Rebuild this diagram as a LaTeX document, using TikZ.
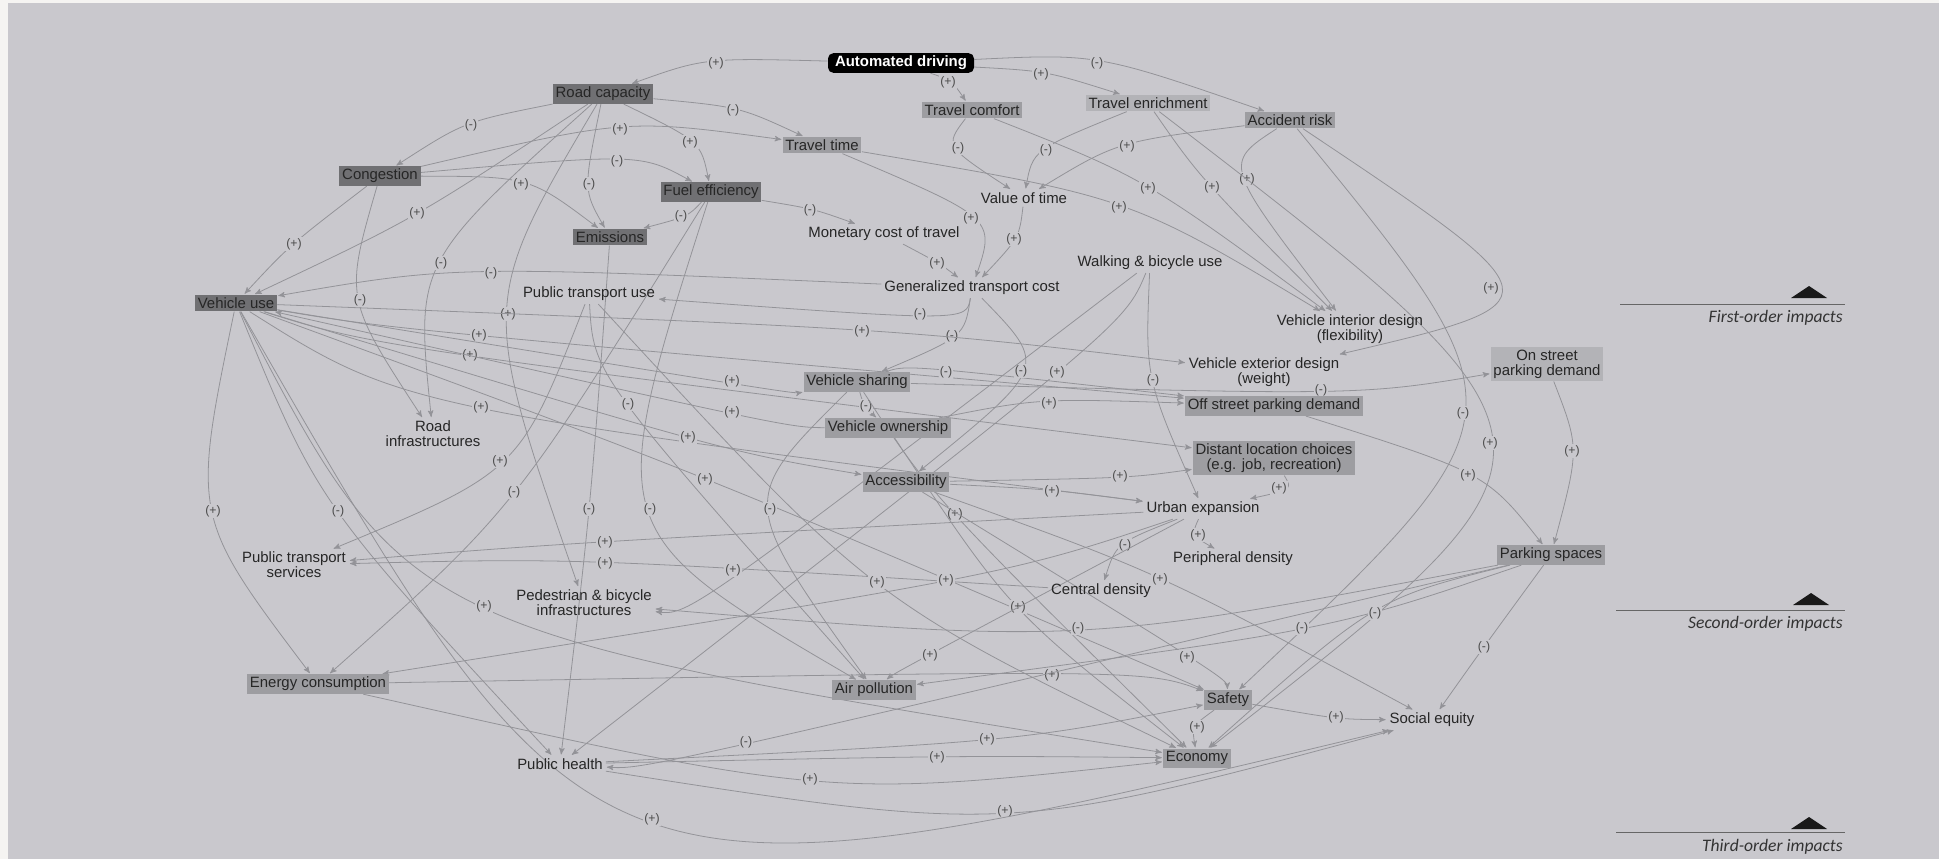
\documentclass[tikz,border=0pt]{standalone}
\usepackage{fontspec}
\setmainfont{Liberation Sans}
\newfontfamily\legfont{Carlito}
\usepackage{tikz}
\usetikzlibrary{arrows,calc}
\definecolor{canvas}{HTML}{C9C8CD}
\definecolor{rim}{HTML}{F5F4F2}
\definecolor{wire}{HTML}{939398}
\definecolor{darkfill}{HTML}{707073}
\definecolor{midfill}{HTML}{9D9DA1}
\definecolor{lightfill}{HTML}{B3B3B7}
\pgfdeclarelayer{back}
\pgfdeclarelayer{links}
\pgfsetlayers{back,links,main}
\tikzset{
  base/.style={font=\fontsize{8.5}{8.5}\selectfont, align=center, inner sep=1.6pt, text=black!85},
  plain/.style={base},
  darkbox/.style={base, fill=darkfill},
  midbox/.style={base, fill=midfill},
  lightbox/.style={base, fill=lightfill},
  driver/.style={base, fill=black, text=white, font=\fontsize{8.5}{8.5}\selectfont\bfseries, rounded corners=3pt, inner xsep=4pt},
  link/.style={draw=wire, line width=0.45pt, ->, >=stealth', shorten >=0.5pt},
  sign/.style={font=\fontsize{7}{7}\selectfont, text=black!70, fill=canvas, inner sep=0.5pt},
  legline/.style={draw=black!60, line width=0.5pt},
  legtext/.style={font=\legfont\itshape\fontsize{10}{10}\selectfont, text=black!80, anchor=east, inner sep=0pt}
}
% from, to, label point, sign
\newcommand{\ripple}[4]{%
  \begin{pgfonlayer}{links}
  \draw[link] (#1) .. controls ($1.3333*(#3)-0.16667*(#1)-0.16667*(#2)$) .. (#2);
  \node[sign] at (#3) {#4};
  \end{pgfonlayer}}

\begin{document}
\begin{tikzpicture}[x=0.02cm, y=-0.02cm]
	\useasboundingbox (0,0) rectangle (1939,859);
	\begin{pgfonlayer}{back}
	\fill[rim] (0,0) rectangle (1939,859);
	\fill[canvas] (8,3) rectangle (1939,859);
	\end{pgfonlayer}

	% first-order
	\node[driver] (ad) at (901,63) {Automated driving};
	\node[darkbox] (rc) at (603,94) {Road capacity};
	\node[midbox] (tc) at (972,110) {Travel comfort};
	\node[lightbox] (te) at (1148,103) {Travel enrichment};
	\node[midbox] (ar) at (1290,120) {Accident risk};
	\node[midbox] (tt) at (822,145) {Travel time};
	\node[darkbox] (cg) at (380,176) {Congestion};
	\node[darkbox] (fe) at (711,192) {Fuel efficiency};
	\node[darkbox] (em) at (610,237) {Emissions};
	\node[plain] (vt) at (1024,198) {Value of time};
	\node[plain] (mc) at (884,234) {Monetary cost of travel};
	\node[plain] (wb) at (1150,263) {Walking \& bicycle use};
	\node[plain] (gc) at (972,288) {Generalized transport cost};
	\node[darkbox] (vu) at (236,303) {Vehicle use};
	\node[plain] (pt) at (589,294) {Public transport use};
	\node[plain] (vi) at (1350,329) {Vehicle interior design\\(flexibility)};
	% second-order
	\node[plain] (ve) at (1264,372) {Vehicle exterior design\\(weight)};
	\node[lightbox] (op) at (1547,364) {On street\\parking demand};
	\node[midbox] (fp) at (1274,406) {Off street parking demand};
	\node[midbox] (vs) at (857,382) {Vehicle sharing};
	\node[midbox] (vo) at (888,428) {Vehicle ownership};
	\node[plain] (ri) at (433,434) {Road\\infrastructures};
	\node[midbox] (dl) at (1274,458) {Distant location choices\\(e.g. job, recreation)};
	\node[midbox] (ac) at (906,482) {Accessibility};
	\node[plain] (ue) at (1203,509) {Urban expansion};
	\node[plain] (pd) at (1233,559) {Peripheral density};
	\node[plain] (ps) at (294,565) {Public transport\\services};
	\node[midbox] (pk) at (1551,555) {Parking spaces};
	\node[plain] (pb) at (584,603) {Pedestrian \& bicycle\\infrastructures};
	\node[plain] (cd) at (1101,591) {Central density};
	% third-order
	\node[midbox] (ec) at (318,684) {Energy consumption};
	\node[midbox] (ap) at (874,690) {Air pollution};
	\node[midbox] (sf) at (1228,700) {Safety};
	\node[plain] (se) at (1432,720) {Social equity};
	\node[plain] (ph) at (560,764) {Public health};
	\node[midbox] (eco) at (1197,758) {Economy};

	\ripple{ad}{rc}{716,63}{(+)}
	\ripple{ad}{tc}{948,82}{(+)}
	\ripple{ad}{te}{1041,74}{(+)}
	\ripple{ad}{ar}{1097,63}{(-)}
	\ripple{rc}{cg}{471,125}{(-)}
	\ripple{cg}{tt}{620,129}{(+)}
	\ripple{rc}{tt}{733,110}{(-)}
	\ripple{rc}{fe}{690,142}{(+)}
	\ripple{cg}{fe}{617,161}{(-)}
	\ripple{cg}{em}{521,184}{(+)}
	\ripple{rc}{em}{589,184}{(-)}
	\ripple{rc}{vu}{417,213}{(+)}
	\ripple{fe}{em}{681,216}{(-)}
	\ripple{fe}{mc}{810,210}{(-)}
	\ripple{tc}{vt}{958,148}{(-)}
	\ripple{te}{vt}{1046,150}{(-)}
	\ripple{ar}{vt}{1127,146}{(+)}
	\ripple{tc}{vi}{1148,188}{(+)}
	\ripple{te}{vi}{1212,187}{(+)}
	\ripple{ar}{vi}{1247,179}{(+)}
	\ripple{tt}{vi}{1119,207}{(+)}
	\ripple{tt}{gc}{971,218}{(+)}
	\ripple{vt}{gc}{1014,239}{(+)}
	\ripple{mc}{gc}{937,263}{(+)}
	\ripple{cg}{vu}{294,244}{(+)}
	\ripple{rc}{ri}{441,263}{(-)}
	\ripple{gc}{vu}{491,273}{(-)}
	\ripple{cg}{ri}{360,300}{(-)}
	\ripple{rc}{pb}{508,314}{(+)}
	\ripple{gc}{pt}{920,314}{(-)}
	\ripple{gc}{vs}{952,336}{(-)}
	\ripple{vu}{ve}{862,331}{(+)}
	\ripple{vu}{fp}{479,335}{(+)}
	\ripple{vu}{dl}{470,355}{(+)}
	\ripple{vu}{ue}{481,407}{(+)}
	\ripple{vu}{ac}{688,437}{(+)}
	\ripple{vu}{sf}{705,479}{(+)}
	\ripple{pt}{ps}{500,461}{(+)}
	\ripple{vu}{vs}{732,381}{(+)}
	\ripple{vs}{fp}{946,372}{(-)}
	\ripple{gc}{ac}{1021,371}{(-)}
	\ripple{wb}{ph}{1057,372}{(+)}
	\ripple{wb}{ue}{1153,380}{(-)}
	\ripple{vs}{op}{1321,390}{(-)}
	\ripple{vs}{vo}{866,406}{(-)}
	\ripple{vo}{vu}{732,412}{(+)}
	\ripple{vo}{fp}{1049,403}{(+)}
	\ripple{pt}{ap}{628,404}{(-)}
	\ripple{ar}{sf}{1463,413}{(-)}
	\ripple{te}{eco}{1490,443}{(+)}
	\ripple{op}{pk}{1572,451}{(+)}
	\ripple{ar}{ve}{1491,288}{(+)}
	\ripple{ac}{dl}{1120,476}{(+)}
	\ripple{ac}{ue}{1052,491}{(+)}
	\ripple{dl}{ue}{1279,488}{(+)}
	\ripple{fp}{pk}{1468,475}{(+)}
	\ripple{vu}{ec}{213,511}{(+)}
	\ripple{vu}{ph}{338,511}{(-)}
	\ripple{fe}{ec}{514,492}{(-)}
	\ripple{em}{ph}{589,509}{(-)}
	\ripple{fe}{ap}{650,509}{(-)}
	\ripple{vs}{ap}{770,509}{(-)}
	\ripple{vs}{eco}{955,514}{(+)}
	\ripple{ue}{ps}{605,542}{(+)}
	\ripple{cd}{ps}{605,563}{(+)}
	\ripple{wb}{pb}{733,570}{(+)}
	\ripple{ue}{cd}{1125,545}{(-)}
	\ripple{ue}{pd}{1198,535}{(+)}
	\ripple{ac}{se}{1160,579}{(+)}
	\ripple{pt}{eco}{877,582}{(+)}
	\ripple{ue}{ec}{946,580}{(+)}
	\ripple{vu}{eco}{484,606}{(+)}
	\ripple{vo}{eco}{1018,607}{(+)}
	\ripple{pk}{pb}{1078,628}{(-)}
	\ripple{pk}{ap}{1302,628}{(-)}
	\ripple{pk}{eco}{1375,613}{(-)}
	\ripple{pk}{se}{1484,647}{(-)}
	\ripple{ue}{ap}{930,655}{(+)}
	\ripple{ec}{sf}{1052,675}{(+)}
	\ripple{ac}{sf}{1187,657}{(+)}
	\ripple{sf}{se}{1336,717}{(+)}
	\ripple{sf}{eco}{1197,727}{(+)}
	\ripple{pk}{ph}{746,742}{(-)}
	\ripple{ph}{eco}{937,757}{(+)}
	\ripple{ph}{sf}{987,739}{(+)}
	\ripple{ec}{eco}{810,779}{(+)}
	\ripple{ph}{se}{1005,811}{(+)}
	\ripple{vu}{se}{652,819}{(+)}

	% legend
	\draw[legline] (1620,304) -- (1845,304);
	\fill[black!90] (1791,298) -- (1809,286) -- (1827,298) -- cycle;
	\node[legtext] (first) at (1843,318) {First-order impacts};
	\draw[legline] (1616,610) -- (1845,610);
	\fill[black!90] (1793,605) -- (1811,593) -- (1829,605) -- cycle;
	\node[legtext] (second) at (1843,624) {Second-order impacts};
	\draw[legline] (1616,832) -- (1845,832);
	\fill[black!90] (1791,829) -- (1809,817) -- (1827,829) -- cycle;
	\node[legtext] (third) at (1843,847) {Third-order impacts};
\end{tikzpicture}
\end{document}
